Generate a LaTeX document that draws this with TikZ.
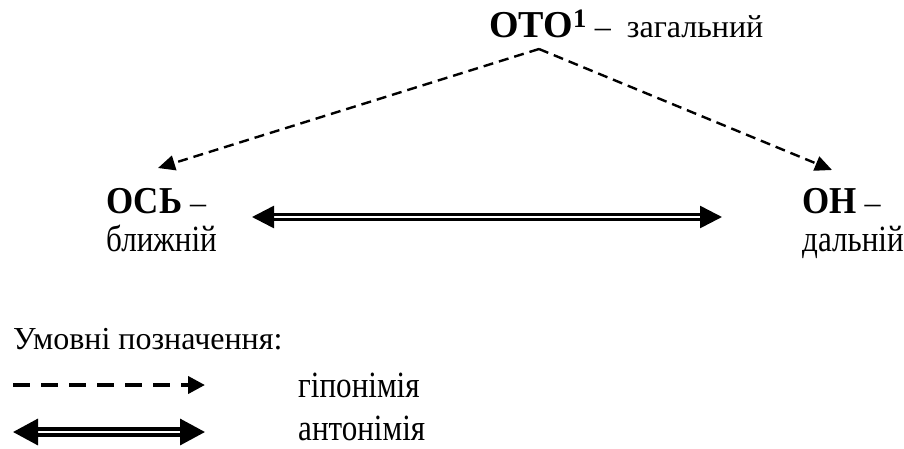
\documentclass[tikz,border=0pt]{standalone}
\usepackage{fontspec}
\setmainfont{Liberation Serif}
% condensed faces for the terms and their glosses
\newfontfamily\headfont[FakeStretch=0.92]{Liberation Serif}
\newfontfamily\tallfont[FakeStretch=0.84]{Liberation Serif}
\usetikzlibrary{arrows.meta}

\newcommand{\term}[1]{{\headfont\bfseries\fontsize{38}{40}\selectfont #1}}
\newcommand{\topterm}[1]{{\bfseries\fontsize{38}{40}\selectfont #1}}
\newcommand{\dashsym}{{\fontsize{32}{36}\selectfont –}}

\tikzset{
  lbl/.style={inner sep=0pt, anchor=base west, font=\fontsize{32}{36}\selectfont},
  gloss/.style={inner sep=0pt, anchor=base west, font=\tallfont\fontsize{37}{40}\selectfont},
  hypo/.style={line width=2.4pt, dash pattern=on 10pt off 6pt,
    -{Triangle[length=17pt,width=15pt]}},
  hypolegend/.style={line width=4pt, dash pattern=on 17pt off 11pt,
    -{Triangle[length=17pt,width=17pt]}},
  anto/.style={double=white, double distance=2.8pt, line width=2.6pt,
    {Triangle[length=22pt,width=22pt]}-{Triangle[length=22pt,width=22pt]}},
  antolegend/.style={double=white, double distance=2.5pt, line width=3.4pt,
    {Triangle[length=25pt,width=26pt]}-{Triangle[length=25pt,width=26pt]}},
}

\begin{document}
\begin{tikzpicture}[x=1pt, y=-1pt]
  \useasboundingbox (0,0) rectangle (904,448);

  % generic term at the top
  \node[lbl] (oto) at (489,37)
    {\topterm{ОТО\textsuperscript{1}} –\ \ загальний};
  \coordinate (apex) at (539,49);

  % the two specific terms
  \node[lbl] (osj) at (106,213) {\term{ОСЬ} \dashsym};
  \node[gloss] (osjgl) at (106,251) {ближній};
  \node[lbl] (on) at (802,213) {\term{ОН} \dashsym};
  \node[gloss] (ongl) at (802,251) {дальній};

  \coordinate (ltip) at (158,168);
  \coordinate (rtip) at (832,170);
  \coordinate (aleft) at (252,217);
  \coordinate (aright) at (722,217);

  % hyponymy links
  \draw[hypo] (apex) -- (ltip);
  \draw[hypo] (apex) -- (rtip);

  % antonymy link
  \draw[anto] (aleft) -- (aright);

  % legend
  \node[lbl] (legtitle) at (13,349) {Умовні позначення:};
  \coordinate (l1a) at (13,385);
  \coordinate (l1b) at (205,385);
  \coordinate (l2a) at (13,432);
  \coordinate (l2b) at (205,432);
  \draw[hypolegend] (l1a) -- (l1b);
  \draw[antolegend] (l2a) -- (l2b);
  \node[gloss] (leghypo) at (298,397) {гіпонімія};
  \node[gloss] (leganto) at (298,440) {антонімія};
\end{tikzpicture}
\end{document}
